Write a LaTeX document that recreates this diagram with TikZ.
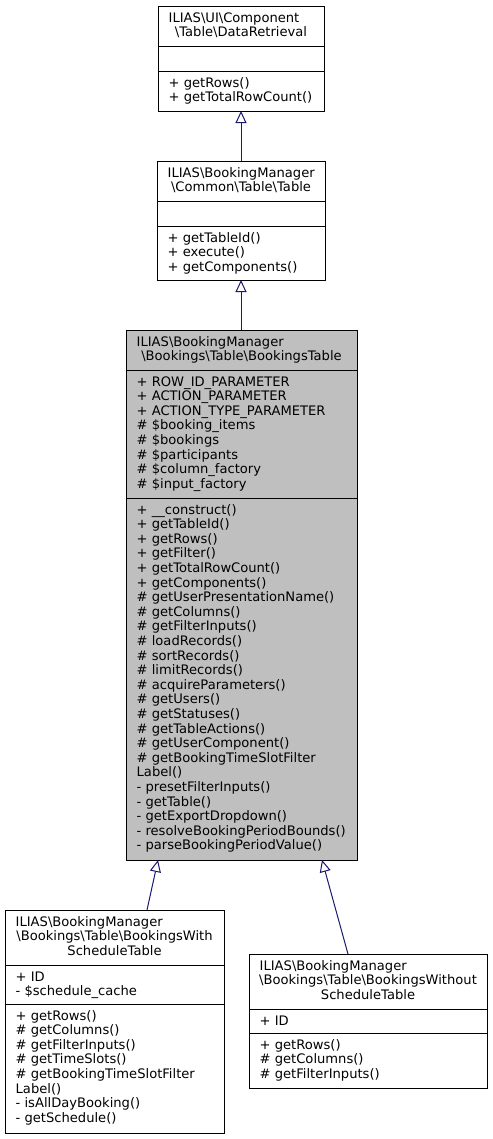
\documentclass[tikz,border=0pt]{standalone}
\usepackage{fontspec}
\setmainfont{DejaVu Sans}
\usetikzlibrary{arrows.meta}
\definecolor{edgeblue}{HTML}{191970}
\definecolor{hlgray}{HTML}{BFBFBF}
\newcommand{\bs}{\textbackslash{}}
% name, x, first baseline, list of lines
\newcommand{\boxlines}[4]{%
  \foreach \t [count=\i from 0] in {#4} {
    \node[txt, anchor=base west] (#1\i) at (#2, #3+14.6*\i) {\t};
  }}
% name, left, top, right, bottom, fill
\newcommand{\umlbox}[6]{%
  \node[cls, fill=#6, minimum width={(#4-#2)*1bp}, minimum height={(#5-#3)*1bp}] (#1) at (#2,#3) {};}
\tikzset{
  cls/.style={draw=black, line width=1bp, inner sep=0pt, outer sep=0pt, anchor=north west},
  sepline/.style={draw=black, line width=1bp},
  txt/.style={inner sep=0pt, font=\fontsize{13.1bp}{14.6bp}\selectfont},
  inh/.style={draw=edgeblue, line width=1bp, -{Triangle[open, length=12bp, width=11bp]}},
}
\begin{document}
\begin{tikzpicture}[x=1bp, y=-1bp]
\useasboundingbox (0,0) rectangle (493,1139);
\fill[white] (0,0) rectangle (493,1139);

% ---------- DataRetrieval ----------
\umlbox{dr}{158}{6}{324}{111}{white}
\draw[sepline] (158,46) -- (324,46);
\draw[sepline] (158,71) -- (324,71);
\node[txt, anchor=base west] (drt1) at (168.5,22) {ILIAS\bs UI\bs Component};
\node[txt, anchor=base] (drt2) at (241,36.6) {\bs Table\bs DataRetrieval};
\boxlines{drm}{168.5}{87}{+ getRows(), + getTotalRowCount()}

% ---------- Common Table ----------
\umlbox{ct}{157}{161}{325}{280}{white}
\draw[sepline] (157,201) -- (325,201);
\draw[sepline] (157,226) -- (325,226);
\node[txt, anchor=base west] (ctt1) at (167.5,177) {ILIAS\bs BookingManager};
\node[txt, anchor=base] (ctt2) at (241,191.6) {\bs Common\bs Table\bs Table};
\boxlines{ctm}{167.5}{242}{+ getTableId(), + execute(), + getComponents()}

% ---------- BookingsTable ----------
\umlbox{bt}{126}{330}{357}{860}{hlgray}
\draw[sepline] (126,370) -- (357,370);
\draw[sepline] (126,498) -- (357,498);
\node[txt, anchor=base west] (btt1) at (136.5,346) {ILIAS\bs BookingManager};
\node[txt, anchor=base] (btt2) at (241.5,360.6) {\bs Bookings\bs Table\bs BookingsTable};
\boxlines{bta}{136.5}{386}{+ ROW\_ID\_PARAMETER, + ACTION\_PARAMETER, + ACTION\_TYPE\_PARAMETER, \# \$booking\_items, \# \$bookings, \# \$participants, \# \$column\_factory, \# \$input\_factory}
\boxlines{btm}{136.5}{514}{+ \_\_construct(), + getTableId(), + getRows(), + getFilter(), + getTotalRowCount(), + getComponents(), \# getUserPresentationName(), \# getColumns(), \# getFilterInputs(), \# loadRecords(), \# sortRecords(), \# limitRecords(), \# acquireParameters(), \# getUsers(), \# getStatuses(), \# getTableActions(), \# getUserComponent(), \# getBookingTimeSlotFilter, Label(), - presetFilterInputs(), - getTable(), - getExportDropdown(), - resolveBookingPeriodBounds(), - parseBookingPeriodValue()}

% ---------- BookingsWithScheduleTable ----------
\umlbox{bws}{5}{910}{224}{1133}{white}
\draw[sepline] (5,965) -- (224,965);
\draw[sepline] (5,1004) -- (224,1004);
\node[txt, anchor=base west] (bwst1) at (15.5,926) {ILIAS\bs BookingManager};
\node[txt, anchor=base] (bwst2) at (114.5,940.6) {\bs Bookings\bs Table\bs BookingsWith};
\node[txt, anchor=base] (bwst3) at (114.5,955.2) {ScheduleTable};
\boxlines{bwsa}{15.5}{981}{+ ID, - \$schedule\_cache}
\boxlines{bwsm}{15.5}{1020}{+ getRows(), \# getColumns(), \# getFilterInputs(), \# getTimeSlots(), \# getBookingTimeSlotFilter, Label(), - isAllDayBooking(), - getSchedule()}

% ---------- BookingsWithoutScheduleTable ----------
\umlbox{bwo}{249}{954}{487}{1088}{white}
\draw[sepline] (249,1009) -- (487,1009);
\draw[sepline] (249,1033) -- (487,1033);
\node[txt, anchor=base west] (bwot1) at (259.5,970) {ILIAS\bs BookingManager};
\node[txt, anchor=base] (bwot2) at (368,984.6) {\bs Bookings\bs Table\bs BookingsWithout};
\node[txt, anchor=base] (bwot3) at (368,999.2) {ScheduleTable};
\boxlines{bwoa}{259.5}{1025}{+ ID}
\boxlines{bwom}{259.5}{1049}{+ getRows(), \# getColumns(), \# getFilterInputs()}

% ---------- inheritance edges ----------
\draw[inh] (ct.north) -- (dr.south);
\draw[inh] ([xshift=-0.5bp]bt.north) -- (ct.south);
\draw[inh] ([xshift=32.5bp]bws.north) -- ([xshift=-83.5bp]bt.south);
\draw[inh] ([xshift=-20bp]bwo.north) -- ([xshift=80.5bp]bt.south);
\end{tikzpicture}
\end{document}
